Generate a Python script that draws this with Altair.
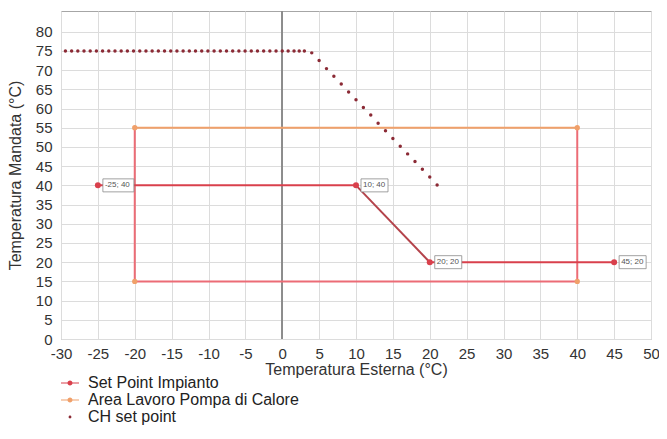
import altair as alt
import pandas as pd

# ---------------- data ----------------
series = ["Set Point Impianto", "Area Lavoro Pompa di Calore", "CH set point"]

# Set Point Impianto
sp_x = [-25, 10, 20, 45]
sp_y = [40, 40, 20, 20]
sp_labels = ["-25; 40", "10; 40", "20; 20", "45; 20"]

# Area Lavoro Pompa di Calore (closed rectangle)
area_x = [-20, 40, 40, -20, -20]
area_y = [55, 55, 15, 15, 55]

# CH set point (dots)
ch_x = [-29.4, -28.56, -27.72, -26.88, -26.04, -25.2, -24.36, -23.52, -22.68, -21.84,
        -21.0, -20.16, -19.32, -18.48, -17.64, -16.8, -15.96, -15.12, -14.28, -13.44,
        -12.6, -11.76, -10.92, -10.08, -9.24, -8.4, -7.56, -6.72, -5.88, -5.04,
        -4.2, -3.36, -2.52, -1.68, -0.84, 0.0, 0.8, 1.6, 2.3, 3.0,
        4, 5, 6, 7, 8, 9, 10, 11, 12, 13, 14, 15, 16, 17, 18, 19, 20, 21]
ch_y = [75] * 40 + [74.5, 72.5, 70.4, 68.4, 66.4, 64.3, 62.3, 60.3, 58.3, 56.2,
                    54.2, 52.2, 50.2, 48.2, 46.2, 44.2, 42.2, 40.1]

x_ticks = list(range(-30, 55, 5))
y_ticks = list(range(0, 85, 5))

# ---------------- styles ----------------
RED = "#d9404c"
RED_DARK = "#b4434b"
ORANGE = "#f0a06a"
PINK = "#ec6c76"
MAROON = "#8b2a35"
FONT = "Liberation Sans"

sp_seg_col = [RED, RED_DARK, RED]
area_seg_col = [ORANGE, PINK, PINK, PINK]


def segments(xs, ys, cols):
    rows = []
    for i in range(len(xs) - 1):
        rows.append({"seg": i, "ord": 0, "x": xs[i], "y": ys[i], "col": cols[i]})
        rows.append({"seg": i, "ord": 1, "x": xs[i + 1], "y": ys[i + 1], "col": cols[i]})
    return pd.DataFrame(rows)


sp_df = pd.DataFrame({"x": sp_x, "y": sp_y, "label": sp_labels})
area_df = pd.DataFrame({"x": area_x[:-1], "y": area_y[:-1]})
ch_df = pd.DataFrame({"x": ch_x, "y": ch_y})
sp_seg = segments(sp_x, sp_y, sp_seg_col)
area_seg = segments(area_x, area_y, area_seg_col)

xs = alt.Scale(domain=[-30, 50], nice=False, zero=False)
ys = alt.Scale(domain=[0, 85.4], nice=False, zero=False)

x_axis = alt.Axis(values=x_ticks, title="Temperatura Esterna (°C)",
                  labelFlush=False, labelOverlap=False, labelExpr="toString(datum.value)")
y_axis = alt.Axis(values=y_ticks, title="Temperatura Mandata (°C)",
                  labelOverlap=False, labelExpr="toString(datum.value)")
X = alt.X("x:Q", scale=xs, axis=x_axis)
Y = alt.Y("y:Q", scale=ys, axis=y_axis)

zero_rule = alt.Chart(ch_df).mark_rule(color="#8c8c8c", strokeWidth=1).encode(
    x=alt.datum(0, scale=xs, axis=x_axis))

area_lines = alt.Chart(area_seg).mark_line(strokeWidth=2).encode(
    x=X, y=Y, detail="seg:N", order="ord:Q",
    stroke=alt.Stroke("col:N", scale=None))

sp_lines = alt.Chart(sp_seg).mark_line(strokeWidth=2).encode(
    x=X, y=Y, detail="seg:N", order="ord:Q",
    stroke=alt.Stroke("col:N", scale=None))

area_pts = alt.Chart(area_df).mark_circle(size=28, color=ORANGE, opacity=1).encode(x=X, y=Y)
sp_pts = alt.Chart(sp_df).mark_circle(size=36, color=RED, opacity=1).encode(x=X, y=Y)
ch_pts = alt.Chart(ch_df).mark_circle(size=12, color=MAROON, opacity=1).encode(x=X, y=Y)

# label boxes (custom symbol path, scale r = sqrt(size)/2 = 30)
def box_path(w, off=5.0, h=13.0, r=30.0):
    x0 = off / r
    x1 = (off + w) / r
    hy = (h / 2) / r
    return f"M{x0:.4f},{-hy:.4f}H{x1:.4f}V{hy:.4f}H{x0:.4f}Z"

sp_df["long"] = sp_df["label"].str.len() > 6
box_long = alt.Chart(sp_df).transform_filter("datum.long").mark_point(
    shape=box_path(31), size=3600, filled=False, fill="white", fillOpacity=1,
    stroke="#8a8a8a", strokeWidth=0.8, opacity=1).encode(x=X, y=Y)
box_short = alt.Chart(sp_df).transform_filter("!datum.long").mark_point(
    shape=box_path(27), size=3600, filled=False, fill="white", fillOpacity=1,
    stroke="#8a8a8a", strokeWidth=0.8, opacity=1).encode(x=X, y=Y)
box_text = alt.Chart(sp_df).mark_text(align="left", baseline="middle", dx=7, fontSize=8,
                                      color="#555555", font=FONT).encode(
    x=X, y=Y, text="label:N")

# legend-only layer
line_dot = ("M-1,-0.055H1V0.055H-1Z"
            "M-0.28,0A0.28,0.28 0 1,1 0.28,0A0.28,0.28 0 1,1 -0.28,0Z")
small_dot = "M-0.16,0A0.16,0.16 0 1,1 0.16,0A0.16,0.16 0 1,1 -0.16,0Z"
leg = alt.Legend(title=None, orient="none", legendX=0, legendY=363, padding=0,
                 rowPadding=0, labelOffset=9, labelFontSize=16, labelFont=FONT,
                 labelColor="#222222", symbolSize=324, symbolStrokeWidth=0, labelLimit=0)
legend_layer = alt.Chart(pd.DataFrame({"series": series, "x": [0, 0, 0], "y": [0, 0, 0]})).transform_filter(
    "false").mark_point(filled=True, opacity=1).encode(
    x=X, y=Y,
    color=alt.Color("series:N", scale=alt.Scale(domain=series, range=[RED, ORANGE, MAROON]), legend=leg),
    shape=alt.Shape("series:N", scale=alt.Scale(domain=series, range=[line_dot, line_dot, small_dot]), legend=leg))

chart = alt.layer(
    zero_rule, area_lines, sp_lines, area_pts, sp_pts, ch_pts,
    box_long, box_short, box_text, legend_layer
).properties(
    width=590, height=328,
    padding={"left": 53, "top": 3, "right": 8, "bottom": 88},
    autosize=alt.AutoSizeParams(type="none"),
).configure_view(
    stroke="#a6a6a6", strokeWidth=1
).configure_axis(
    grid=True, gridColor="#dcdcdc", gridWidth=1, domain=False, ticks=False,
    labelFont=FONT, labelFontSize=15, labelColor="#333333",
    titleFont=FONT, titleFontSize=16, titleFontWeight="normal", titleColor="#333333",
).configure_axisX(
    labelPadding=7, titlePadding=0
).configure_axisY(
    labelPadding=9, titlePadding=12
)

chart.save("out.html", embed_options={"renderer": "svg", "actions": False})
